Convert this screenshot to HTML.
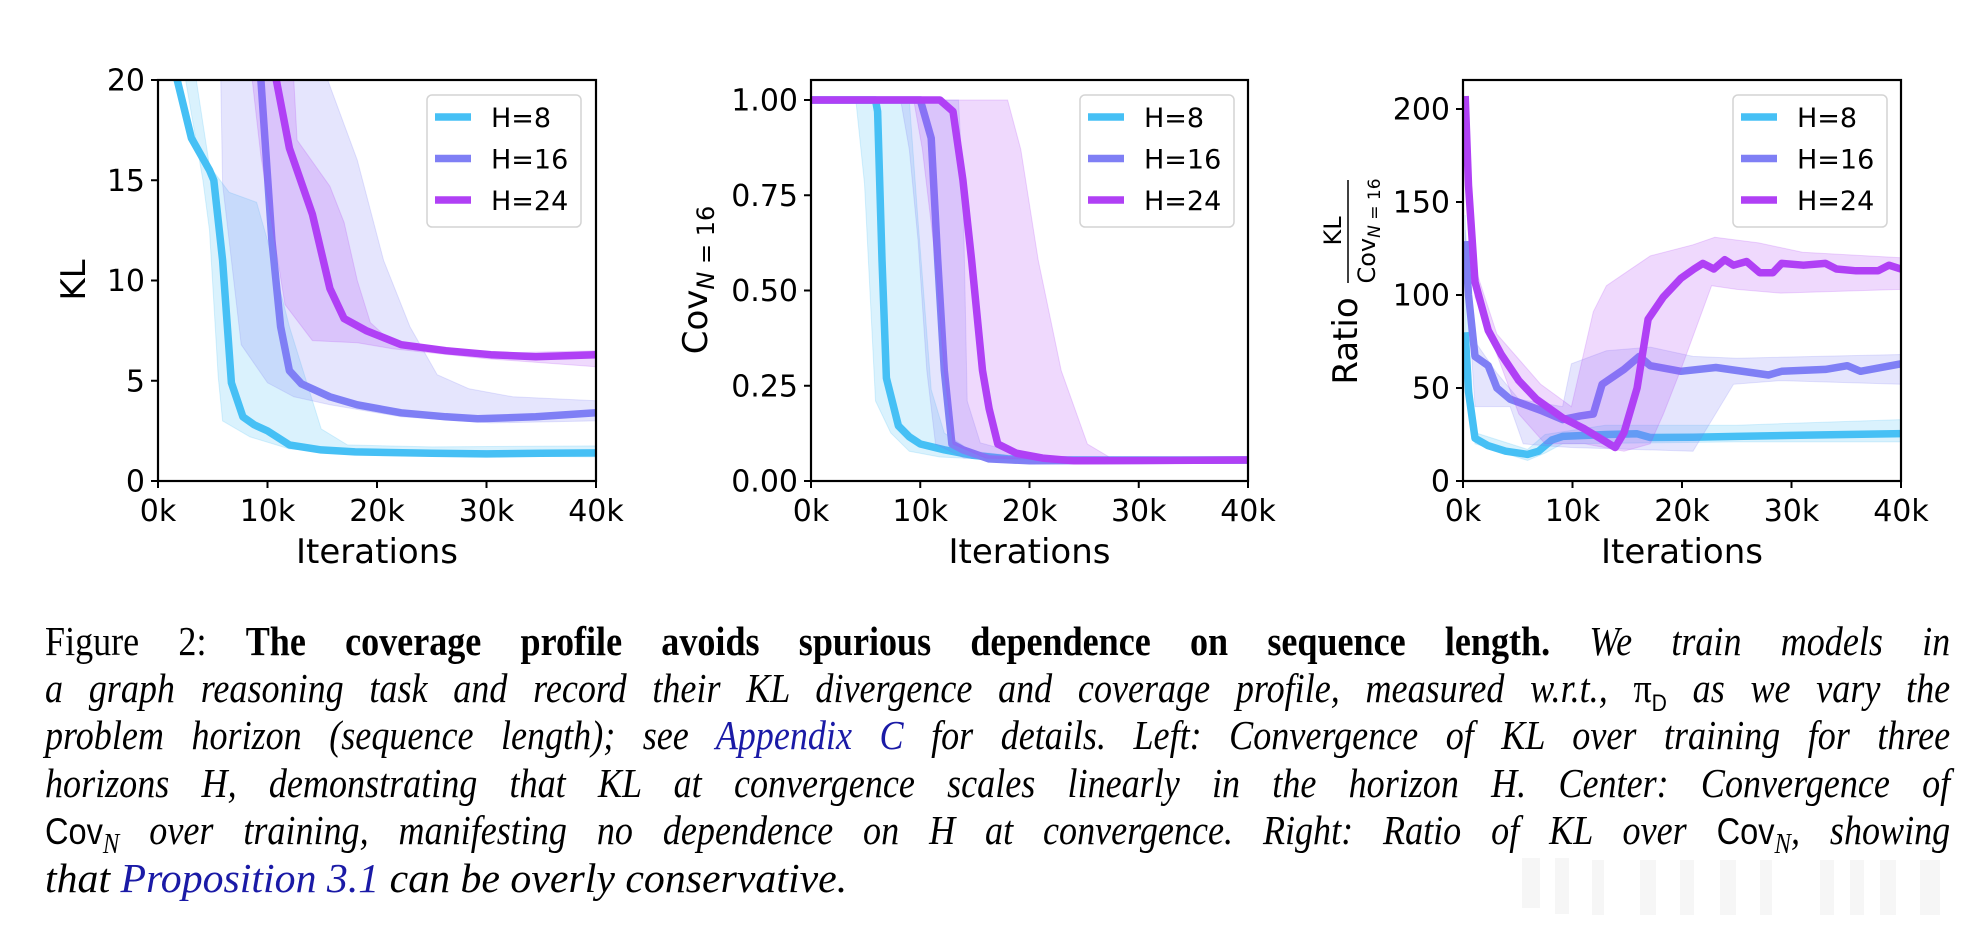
<!DOCTYPE html>
<html><head><meta charset="utf-8"><style>
html,body{margin:0;padding:0;background:#fff;width:1986px;height:936px;overflow:hidden}
svg{position:absolute;left:0;top:0}
.cap{position:absolute;left:45px;width:2165px;transform:scaleX(0.88);transform-origin:0 0;font-family:"Liberation Serif",serif;font-size:41px;white-space:nowrap;text-align:justify;text-align-last:justify;color:#000;line-height:47px;height:47px}
.cap i{font-style:italic}
.b{color:#1a1aa6}
.tt{font-family:"Liberation Sans",sans-serif;font-style:normal}
</style></head><body>
<svg id="s" width="1986" height="936" xmlns="http://www.w3.org/2000/svg" font-family="DejaVu Sans, Liberation Sans, sans-serif"></svg>
<div class="cap" style="top:618px">Figure 2: <b>The coverage profile avoids spurious dependence on sequence length.</b> <i>We train models in</i></div>
<div class="cap" style="top:665px"><i>a graph reasoning task and record their KL divergence and coverage profile, measured w.r.t., </i>π<sub style="font-size:24px" class="tt">D</sub><i> as we vary the</i></div>
<div class="cap" style="top:712px"><i>problem horizon (sequence length); see <span class="b">Appendix C</span> for details. Left: Convergence of KL over training for three</i></div>
<div class="cap" style="top:760px"><i>horizons H, demonstrating that KL at convergence scales linearly in the horizon H. Center: Convergence of</i></div>
<div class="cap" style="top:807px"><span class="tt" style="font-size:37px">Cov</span><i><sub style="font-size:28px">N</sub> over training, manifesting no dependence on H at convergence. Right: Ratio of KL over </i><span class="tt" style="font-size:37px">Cov</span><i><sub style="font-size:28px">N</sub>, showing</i></div>
<div class="cap" style="top:855px;text-align-last:left;transform:scaleX(1.02)"><i>that <span class="b">Proposition 3.1</span> can be overly conservative.</i></div>
<script>
const C=['#46c0f5','#7f7ff5','#b040f5'];
const P=[
{x0:158,x1:596,ymax:20,ticks:[0,5,10,15,20],fmt:v=>''+v,
 s:[
 {m:[[1.75,20.5],[1.75,20],[3.05,17.1],[4.7,15.5],[5.1,15],[5.9,11],[6.7,4.9],[7.75,3.2],[8.8,2.8],[10,2.5],[12,1.8],[14.9,1.55],[18,1.45],[25,1.38],[30,1.35],[35,1.38],[40,1.4]],
  u:[[2.2,21],[3.5,20],[4.7,15.7],[6.5,14.4],[9,13.9],[10,12],[12,7.7],[14.9,2.6],[17.3,1.8],[25,1.7],[40,1.75]],
  l:[[2.2,21],[4.1,15],[4.7,12.5],[5.5,5.2],[5.9,3],[8.4,2.2],[12,1.6],[20,1.3],[40,1.2]]},
 {m:[[9.4,20.5],[9.4,20],[10.4,12],[11.2,7.7],[12,5.5],[13.1,4.85],[15.7,4.2],[18.2,3.8],[22.2,3.4],[26.3,3.2],[29.2,3.1],[34.5,3.2],[40,3.4]],
  u:[[5.7,21],[15.5,21],[15.5,20],[18.2,16],[20.6,11],[23,7.7],[25.5,5.3],[28.4,4.6],[32.4,4.2],[40,4]],
  l:[[5.7,21],[5.9,14.8],[7.6,6.8],[10,4.9],[12.4,4.2],[15.7,3.8],[22.2,3.2],[30.4,2.9],[40,3]]},
 {m:[[10.8,20.5],[10.8,20],[12,16.6],[14.1,13.3],[15.7,9.6],[17,8.1],[19,7.5],[22.2,6.8],[26.3,6.5],[30.4,6.3],[34.5,6.2],[40,6.3]],
  u:[[12.4,21],[12.4,20],[12.7,17],[15.7,14.7],[17,12.9],[18.2,10],[19.4,7.9],[21,7.1],[24.3,6.6],[32,6.4],[40,6.5]],
  l:[[8.6,21],[8.6,20],[9.4,16.2],[11.6,8.8],[14.1,7],[18.2,6.9],[21.4,6.6],[30,6.1],[40,5.7]]}],
 ylab:'KL'},
{x0:811,x1:1248,ymax:1.0525,ticks:[0,0.25,0.5,0.75,1],fmt:v=>v.toFixed(2),
 s:[
 {m:[[0,1],[5.9,1],[6.1,0.97],[6.5,0.58],[6.9,0.27],[8,0.145],[9,0.116],[10,0.097],[12.2,0.082],[14.7,0.068],[18,0.058],[22,0.055],[40,0.055]],
  u:[[0,1],[9,1],[9.8,0.68],[11,0.24],[12.2,0.126],[14.7,0.078],[20,0.062],[40,0.06]],
  l:[[0,1],[4.1,1],[4.9,0.78],[5.9,0.21],[7.3,0.126],[9,0.078],[11.8,0.063],[20,0.052],[40,0.05]]},
 {m:[[0,1],[10,1],[11,0.9],[11.6,0.58],[12.2,0.29],[12.9,0.097],[13.9,0.082],[16.3,0.058],[20,0.053],[40,0.055]],
  u:[[0,1],[13.5,1],[13.9,0.78],[14.3,0.21],[15.5,0.1],[20,0.065],[40,0.06]],
  l:[[0,1],[8.2,1],[9,0.87],[9.8,0.63],[10.6,0.29],[11.4,0.097],[14,0.06],[40,0.05]]},
 {m:[[0,1],[11.8,1],[13,0.97],[13.9,0.79],[14.7,0.58],[15.7,0.29],[16.3,0.19],[17.1,0.097],[18.8,0.073],[21.2,0.06],[24.1,0.053],[40,0.055]],
  u:[[0,1],[18,1],[19.2,0.87],[20.8,0.58],[22.9,0.29],[25.3,0.097],[27.3,0.063],[40,0.06]],
  l:[[0,1],[9.4,1],[10.2,0.87],[11.4,0.58],[12.2,0.29],[13,0.097],[16,0.06],[40,0.05]]}],
 ylab:'cov'},
{x0:1463,x1:1901,ymax:215.6,ticks:[0,50,100,150,200],fmt:v=>''+v,
 s:[
 {m:[[0.2,80],[0.5,48],[1.1,23],[2.3,19],[3.9,16],[5.9,14.3],[6.9,16],[8.1,22],[9.1,24],[13.1,25],[15.9,25.4],[17.1,23.4],[21,23.5],[25,24],[30,24.5],[35,25],[40,25.5]],
  u:[[0.2,143],[0.5,80],[1.1,26],[5.9,17],[7.5,25],[13,30],[25,30],[40,33]],
  l:[[0.2,60],[1.1,20],[5.9,11],[7.5,15],[9.1,20],[25,21],[40,21]]},
 {m:[[0.2,129],[0.5,100],[1.1,67],[2.3,62],[3.1,50],[4.3,44],[7.1,38],[9.1,33],[10.7,35],[11.9,36],[12.7,52],[14.7,60],[16.1,67],[17.1,62],[19.9,59],[23.1,61],[27.9,57],[29.1,59],[33.1,60],[35.1,62],[36.3,59],[40,63]],
  u:[[0.2,135],[1.1,75],[3.1,58],[5.1,44],[9.1,40],[9.9,63],[13.1,70],[17.1,72],[21,67],[25,66],[40,68]],
  l:[[0.2,120],[1.1,40],[4.3,40],[5.5,20],[7.5,19],[9.9,18],[21,16],[24.7,52],[29,54],[40,52]]},
 {m:[[0.2,207],[0.5,159],[1.1,107],[2.3,81],[3.5,68],[5.1,54],[6.7,44],[9.1,34],[11.1,28],[13.9,18],[14.7,26],[15.9,50],[16.9,87],[18.3,99],[19.9,109],[21.1,114],[21.9,117],[22.9,114],[23.9,119],[24.7,116],[25.9,118],[27.1,112],[28.3,112],[29.1,117],[31.1,116],[33.1,117],[34.1,114],[35.9,113],[37.9,113],[38.9,116],[40,114]],
  u:[[0.2,205],[0.3,199],[1.1,115],[3.1,79],[7.1,52],[9.9,40],[11.9,91],[13.1,105],[15.1,113],[17.1,121],[21,127],[23,131],[27,128],[31,123],[40,120]],
  l:[[0.2,205],[1.1,99],[3.1,68],[5.1,36],[7.5,20],[11.1,20],[14.7,16],[17.1,20],[18.3,36],[19.9,60],[22.7,105],[25,103],[29,101],[40,103]]}],
 ylab:'ratio'}];
const Y0=481,YT=80;
let h='';
P.forEach((p,pi)=>{
 const X=v=>p.x0+(p.x1-p.x0)*v/40, Yf=v=>Y0-(Y0-YT)*v/p.ymax;
 const pts=a=>a.map(q=>X(q[0]).toFixed(1)+','+Yf(q[1]).toFixed(1)).join(' ');
 h+=`<clipPath id="c${pi}"><rect x="${p.x0}" y="${YT}" width="${p.x1-p.x0}" height="${Y0-YT}"/></clipPath><g clip-path="url(#c${pi})">`;
 p.s.forEach((s,i)=>{
  h+=`<polygon points="${pts(s.u)} ${pts(s.l.slice().reverse())}" fill="${C[i]}" fill-opacity="0.2" stroke="${C[i]}" stroke-opacity="0.2" stroke-width="1"/>`;
  h+=`<polyline points="${pts(s.m)}" fill="none" stroke="${C[i]}" stroke-width="7.5" stroke-linejoin="round"/>`;
 });
 h+='</g>';
 h+=`<rect x="${p.x0}" y="${YT}" width="${p.x1-p.x0}" height="${Y0-YT}" fill="none" stroke="#000" stroke-width="2.2"/>`;
 p.ticks.forEach(t=>{const y=Yf(t);h+=`<line x1="${p.x0-7}" x2="${p.x0}" y1="${y}" y2="${y}" stroke="#000" stroke-width="2"/><text x="${p.x0-13}" y="${y+10.5}" font-size="30" text-anchor="end">${p.fmt(t)}</text>`;});
 [0,10,20,30,40].forEach(t=>{const x=X(t);h+=`<line x1="${x}" x2="${x}" y1="${Y0}" y2="${Y0+7}" stroke="#000" stroke-width="2"/><text x="${x}" y="521" font-size="30" text-anchor="middle">${t}k</text>`;});
 h+=`<text x="${(p.x0+p.x1)/2}" y="563" font-size="34" text-anchor="middle">Iterations</text>`;
 const lx=[427,1080,1733][pi];
 h+=`<rect x="${lx}" y="95" width="154" height="132" rx="5" fill="#fff" fill-opacity="0.85" stroke="#d4d4d4" stroke-width="1.5"/>`;
 ['H=8','H=16','H=24'].forEach((t,i)=>{const y=117+i*41.5;h+=`<line x1="${lx+8}" x2="${lx+44}" y1="${y}" y2="${y}" stroke="${C[i]}" stroke-width="7.5"/><text x="${lx+64}" y="${y+10}" font-size="27">${t}</text>`;});
});
h+=`<g transform="translate(85,280) rotate(-90)"><text x="0" y="0" font-size="34" text-anchor="middle">KL</text></g>`;
h+=`<g transform="translate(707,280) rotate(-90)"><text x="0" y="0" font-size="34" text-anchor="middle">Cov<tspan font-size="24" dy="7" font-style="italic">N</tspan><tspan font-size="24"> = 16</tspan></text></g>`;
h+=`<g transform="translate(1357,341) rotate(-90)"><text x="0" y="0" font-size="34" text-anchor="middle">Ratio</text></g>`;
h+=`<g transform="translate(1341,231) rotate(-90)"><text x="0" y="0" font-size="24" text-anchor="middle">KL</text></g>`;
h+=`<line x1="1348" x2="1348" y1="180" y2="283" stroke="#000" stroke-width="1.5"/>`;
h+=`<g transform="translate(1375,231) rotate(-90)"><text x="0" y="0" font-size="24" text-anchor="middle">Cov<tspan font-size="17" dy="5" font-style="italic">N</tspan><tspan font-size="17"> = 16</tspan></text></g>`;
[[1522,858,18,50],[1555,858,14,56],[1592,860,12,55],[1640,860,16,55],[1680,860,14,55],[1720,860,16,55],[1760,860,12,55],[1820,860,14,55],[1850,860,14,55],[1880,860,16,55],[1920,860,20,55]].forEach(r=>{h+=`<rect x="${r[0]}" y="${r[1]}" width="${r[2]}" height="${r[3]}" fill="#ececec" opacity="0.45"/>`;});
document.getElementById('s').innerHTML=h;
</script>
</body></html>
